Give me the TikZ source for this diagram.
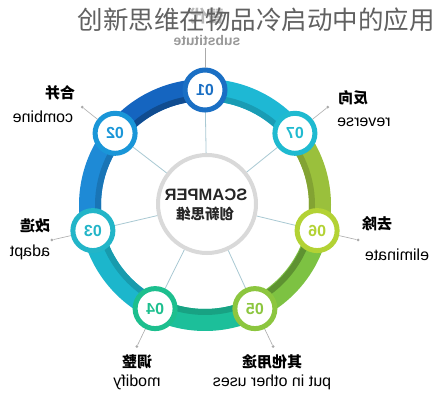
\documentclass[tikz,border=0pt]{standalone}
\usepackage{fontspec}
\setmainfont{Liberation Sans}
\newfontfamily\cjk{Noto Sans CJK SC}
\usetikzlibrary{calc}
\definecolor{c1}{HTML}{1A6FC4}
\definecolor{c2}{HTML}{1A96D8}
\definecolor{c3}{HTML}{22B5C8}
\definecolor{c4}{HTML}{1DBF8E}
\definecolor{c5}{HTML}{8CC63F}
\definecolor{c6}{HTML}{B3D234}
\definecolor{c7}{HTML}{1FBAD0}
\definecolor{s1}{HTML}{1565C0}
\definecolor{s2}{HTML}{1E8AD6}
\definecolor{s3}{HTML}{1CB6CC}
\definecolor{s4}{HTML}{1CBF9A}
\definecolor{s5}{HTML}{7DC242}
\definecolor{s6}{HTML}{9AC03C}
\definecolor{s7}{HTML}{1EB8D4}
\definecolor{spoke}{HTML}{A9C9D3}
\definecolor{lead}{HTML}{AAAAAA}
\begin{document}
\begin{tikzpicture}[x=1pt,y=1pt,
  mirror/.style={xscale=-1,transform shape},
  num/.style={circle,draw=#1,fill=white,line width=5pt,minimum size=40pt,inner sep=0pt,
    text=#1,font=\bfseries\fontsize{16}{16}\selectfont,mirror},
  band/.style={line width=22pt},
  stripe/.style={line width=6pt},
  cn/.style={font=\cjk\bfseries\fontsize{15}{15}\selectfont,mirror,inner sep=0pt},
  en/.style={font=\fontsize{16}{16}\selectfont,mirror,inner sep=0pt},
  leadline/.style={draw=lead,line width=0.6pt},
  dotc/.style={circle,fill=lead,inner sep=0pt,minimum size=3pt}]
\useasboundingbox (0,0) rectangle (438,400);
\fill[white] (0,0) rectangle (438,400);
\coordinate (C) at (205,195);
% band segments
\draw[band,s1] ($(C)+(90:115)$) arc[start angle=90,end angle=141.43,radius=115];
\draw[band,s2] ($(C)+(141.43:115)$) arc[start angle=141.43,end angle=192.86,radius=115];
\draw[band,s3] ($(C)+(192.86:115)$) arc[start angle=192.86,end angle=244.29,radius=115];
\draw[band,s4] ($(C)+(244.29:115)$) arc[start angle=244.29,end angle=295.71,radius=115];
\draw[band,s5] ($(C)+(295.71:115)$) arc[start angle=295.71,end angle=347.14,radius=115];
\draw[band,s6] ($(C)+(347.14:115)$) arc[start angle=347.14,end angle=398.57,radius=115];
\draw[band,s7] ($(C)+(38.57:115)$) arc[start angle=38.57,end angle=90,radius=115];
% inner darker stripes
\draw[stripe,s1!75!black] ($(C)+(90:107)$) arc[start angle=90,end angle=141.43,radius=107];
\draw[stripe,s2!85!black] ($(C)+(141.43:107)$) arc[start angle=141.43,end angle=192.86,radius=107];
\draw[stripe,s3!85!black] ($(C)+(192.86:107)$) arc[start angle=192.86,end angle=244.29,radius=107];
\draw[stripe,s4!85!black] ($(C)+(244.29:107)$) arc[start angle=244.29,end angle=295.71,radius=107];
\draw[stripe,s5!75!black] ($(C)+(295.71:108)$) arc[start angle=295.71,end angle=347.14,radius=108];
\draw[stripe,s6!85!black] ($(C)+(347.14:107)$) arc[start angle=347.14,end angle=398.57,radius=107];
\draw[stripe,s7!85!black] ($(C)+(38.57:107)$) arc[start angle=38.57,end angle=90,radius=107];
% center
\node[circle,draw=gray!30,line width=4pt,fill=white,minimum size=98pt,inner sep=0pt] (ctr) at (207,196) {};
% node coordinates
\coordinate (p1) at ($(C)+(90:115)$);
\coordinate (p2) at ($(C)+(141.43:115)$);
\coordinate (p3) at ($(C)+(192.86:115)$);
\coordinate (p4) at ($(C)+(244.29:115)$);
\coordinate (p5) at ($(C)+(295.71:115)$);
\coordinate (p6) at ($(C)+(347.14:115)$);
\coordinate (p7) at ($(C)+(38.57:115)$);
% spokes
\foreach \i in {1,...,7} \draw[spoke,line width=0.8pt] (ctr) -- (p\i);
% numbered nodes
\node[num=c1] (n1) at (p1) {01};
\node[num=c2] (n2) at (p2) {02};
\node[num=c3] (n3) at (p3) {03};
\node[num=c4] (n4) at (p4) {04};
\node[num=c5] (n5) at (p5) {05};
\node[num=c6] (n6) at (p6) {06};
\node[num=c7] (n7) at (p7) {07};
\node[font=\bfseries\fontsize{16.5}{16.5}\selectfont,text=black!85,mirror,inner sep=0pt] (t1) at (206,205) {SCAMPER};
\node[font=\cjk\bfseries\fontsize{14.5}{14.5}\selectfont,text=black!85,mirror,inner sep=0pt] (t2) at (205,186) {创新思维};
% leader dots
\coordinate (d1) at ($(C)+(90:157)$);
\node[dotc] (d2) at ($(C)+(141.43:157)$) {};
\node[dotc] (d3) at ($(C)+(192.86:157)$) {};
\node[dotc] (d4) at ($(C)+(244.29:157)$) {};
\node[dotc] (d5) at ($(C)+(295.71:157)$) {};
\node[dotc] (d6) at ($(C)+(347.14:157)$) {};
\node[dotc] (d7) at ($(C)+(38.57:157)$) {};
\foreach \i in {1,...,7} \draw[leadline] (n\i) -- (d\i);
% labels
\node[cn,text=gray!55,font=\cjk\bfseries\fontsize{17}{17}\selectfont] (l1a) at (207,384) {替代};
\node[en,text=gray!80,font=\bfseries\fontsize{14}{14}\selectfont] (l1b) at (207,360) {substitute};
\node[cn] (l2a) at (60,307) {合并};
\node[en] (l2b) at (43,283) {combine};
\node[cn] (l3a) at (35,174) {改造};
\node[en] (l3b) at (30,148) {adapt};
\node[cn] (l4a) at (137,38) {调整};
\node[en] (l4b) at (137,18) {modify};
\node[cn] (l5a) at (272,38) {其他用途};
\node[en] (l5b) at (272,18) {put in other uses};
\node[cn] (l6a) at (377,176) {去除};
\node[en] (l6b) at (397,145) {eliminate};
\node[cn] (l7a) at (353,302) {反向};
\node[en] (l7b) at (364,278) {reverse};
% title
\node[font=\cjk\fontsize{25.5}{25.5}\selectfont,text=black!62,inner sep=0pt] (title) at (256,380) {创新思维在物品冷启动中的应用};
\end{tikzpicture}
\end{document}
